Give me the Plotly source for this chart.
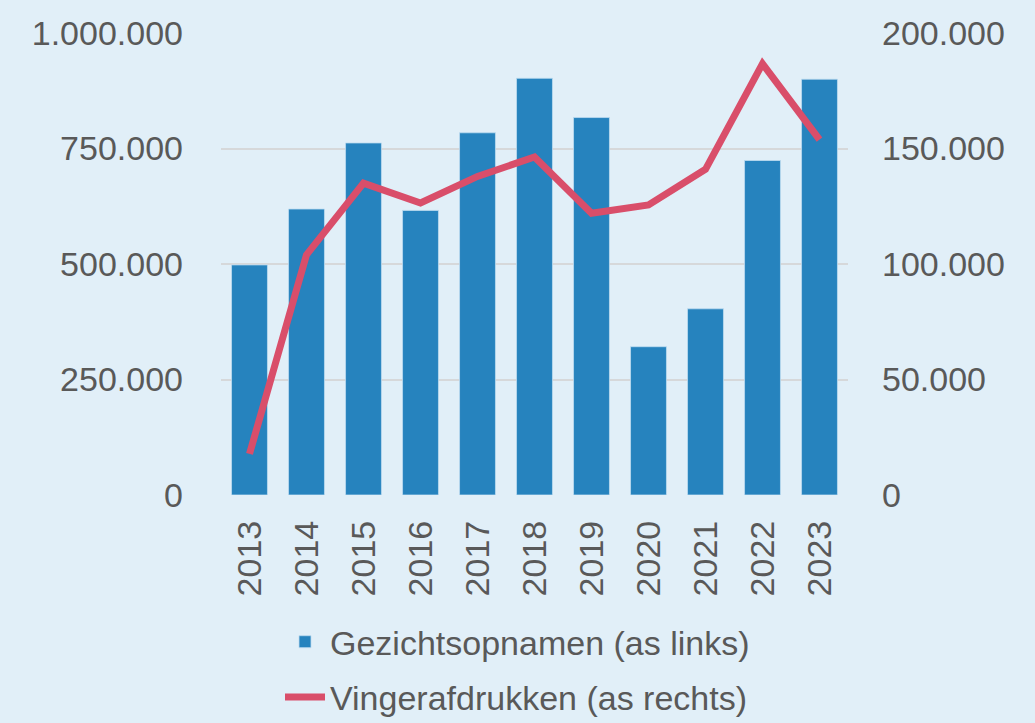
import plotly.graph_objects as go

years = ["2013", "2014", "2015", "2016", "2017", "2018", "2019", "2020", "2021", "2022", "2023"]
gezichtsopnamen = [498000, 619000, 762000, 616000, 784000, 902000, 817000, 321000, 403000, 724000, 900000]
vingerafdrukken = [17800, 104000, 135000, 126400, 137900, 146300, 122000, 125600, 141000, 186700, 153800]

left_ticks = [0, 250000, 500000, 750000, 1000000]
right_ticks = [0, 50000, 100000, 150000, 200000]

text_color = "#595959"
font_family = "Liberation Sans, Arial, sans-serif"
fs = 34

fig = go.Figure()
fig.add_trace(go.Bar(
    x=years, y=gezichtsopnamen, name="Gezichtsopnamen (as links)",
    marker=dict(color="#2683BE", line=dict(color="rgba(190,220,240,0.8)", width=1)),
    yaxis="y", legendgroup="a",
))
fig.add_trace(go.Scatter(
    x=years, y=vingerafdrukken, name="Vingerafdrukken (as rechts)",
    mode="lines", line=dict(color="#D94E6A", width=7),
    yaxis="y2", legendgroup="b",
))

fig.update_layout(
    width=1035, height=723,
    paper_bgcolor="#E1EFF8", plot_bgcolor="#E1EFF8",
    separators=",.",
    margin=dict(l=221, r=187, t=33, b=228, autoexpand=False),
    font=dict(family=font_family, color=text_color, size=fs),
    bargap=0.37,
    xaxis=dict(
        type="category", tickangle=-90, showgrid=False, showline=False,
        ticks="", tickfont=dict(size=fs, color=text_color), ticklabelstandoff=18,
    ),
    yaxis=dict(
        range=[0, 1000000], tickvals=left_ticks, tickformat=",d",
        showgrid=True, gridcolor="#D6D8DA", gridwidth=2, zeroline=False,
        showline=False, ticks="", tickfont=dict(size=fs, color=text_color),
        ticklabelstandoff=37,
    ),
    yaxis2=dict(
        range=[0, 200000], tickvals=right_ticks, tickformat=",d",
        overlaying="y", side="right", showgrid=False, zeroline=False,
        showline=False, ticks="", tickfont=dict(size=fs, color=text_color),
        ticklabelstandoff=33,
    ),
    showlegend=True,
    legend=dict(
        orientation="v", xref="container", yref="container",
        x=0.5, xanchor="center", y=0.152, yanchor="top",
        font=dict(size=fs, color=text_color), bgcolor="rgba(0,0,0,0)",
        traceorder="grouped", tracegroupgap=8, itemwidth=40,
    ),
)

fig.write_html(
    "out.html",
    config={"displayModeBar": False},
    post_script="document.body.style.margin='0';",
)
